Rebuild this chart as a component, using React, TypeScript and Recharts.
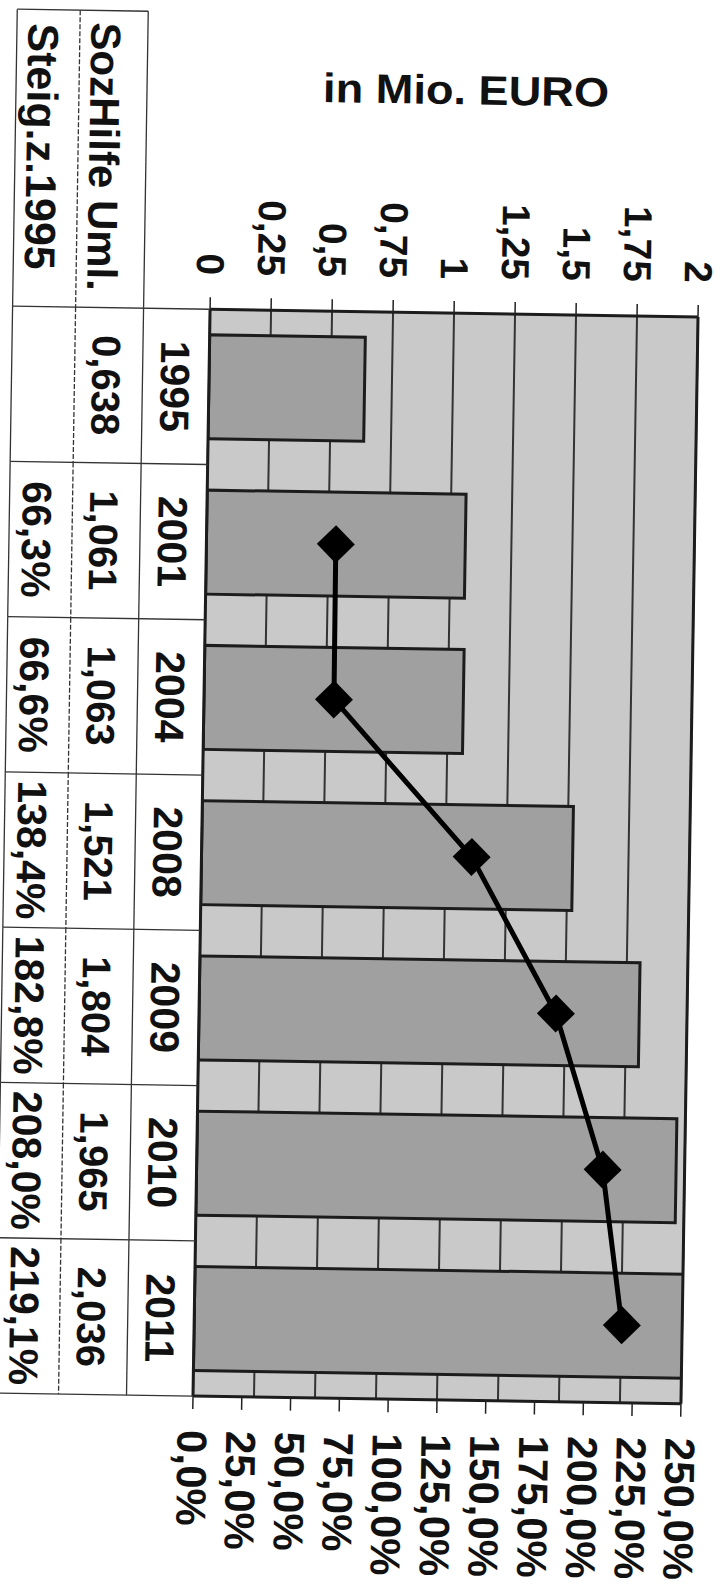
import React from 'react';
import { ComposedChart, Bar, Line, XAxis, YAxis, CartesianGrid, ReferenceLine } from 'recharts';

// ---- data ----
const years = ['1995', '2001', '2004', '2008', '2009', '2010', '2011'];
const sozHilfeUml = [0.638, 1.061, 1.063, 1.521, 1.804, 1.965, 2.036];
const steigerung: (number | null)[] = [null, 66.3, 66.6, 138.4, 182.8, 208.0, 219.1];
const rowLabels = ['SozHilfe Uml.', 'Steig.z.1995'];
const titleText = 'in Mio. EURO';
const valueTicks = [0, 0.25, 0.5, 0.75, 1, 1.25, 1.5, 1.75, 2];
const pctTicks = [0, 25, 50, 75, 100, 125, 150, 175, 200, 225, 250];

const data = years.map((y, i) => ({ year: y, value: sozHilfeUml[i], pct: steigerung[i] }));

// ---- style ----
const FONT = '"Liberation Sans", Arial, Helvetica, sans-serif';
const INK = '#111';
const PLOT_BG = '#c9c9c9';
const BAR_FILL = '#a0a0a0';
const EDGE = '#1c1c1c';

const fmtTick = (v: number) => String(v).replace('.', ',');
const fmtVal = (v: number) => v.toFixed(3).replace('.', ',');
const fmtPct = (v: number) => v.toFixed(1).replace('.', ',') + '%';

function TableTick(props: any) {
  const { x, y, payload } = props;
  const i: number = payload.index ?? props.index ?? 0;
  const half: number = payload.offset || 77.6;
  const x0 = x - half;
  const x1 = x + half;
  const rYear = y + 66.5;
  const rSoz = y + 134.5;
  const rEnd = y + 197.5;
  const ln = { stroke: '#333', strokeWidth: 1.3 };
  const txt = { fontFamily: FONT, fontWeight: 700, fontSize: 40, fill: INK } as const;
  const pct = steigerung[i];
  return (
    <g>
      {i === 0 && (
        <g>
          <line x1={16} y1={rYear} x2={x0} y2={rYear} {...ln} />
          <line x1={16} y1={rSoz} x2={x0} y2={rSoz} {...ln} strokeDasharray="5 2" />
          <line x1={16} y1={rEnd} x2={x0} y2={rEnd} {...ln} />
          <line x1={16} y1={rYear} x2={16} y2={rEnd} {...ln} />
          <text x={28} y={rYear + 42} dy="0.35em" {...txt} fontSize={42}>{rowLabels[0]}</text>
          <text x={30} y={rSoz + 36.5} dy="0.35em" {...txt} fontSize={43}>{rowLabels[1]}</text>
        </g>
      )}
      <line x1={x0} y1={y} x2={x0} y2={rEnd} {...ln} />
      {i === years.length - 1 && <line x1={x1} y1={y} x2={x1} y2={rEnd} {...ln} />}
      <line x1={x0} y1={rYear} x2={x1} y2={rYear} {...ln} />
      <line x1={x0} y1={rSoz} x2={x1} y2={rSoz} {...ln} strokeDasharray="5 2" />
      <line x1={x0} y1={rEnd} x2={x1} y2={rEnd} {...ln} />
      <text x={x} y={y + 34} dy="0.35em" textAnchor="middle" {...txt} fontSize={41}>{years[i]}</text>
      <text x={x} y={y + 103} dy="0.35em" textAnchor="middle" {...txt}>{fmtVal(sozHilfeUml[i])}</text>
      {pct != null && (
        <text x={x} y={y + 170} dy="0.35em" textAnchor="middle" {...txt} fontSize={41}>{fmtPct(pct)}</text>
      )}
    </g>
  );
}

function Diamond(props: any) {
  const { cx, cy, index } = props;
  if (cx == null || cy == null || props.value == null) return <g key={`d${index}`} />;
  const r = 19;
  return (
    <polygon
      key={`d${index}`}
      points={`${cx},${cy - r} ${cx + r},${cy} ${cx},${cy + r} ${cx - r},${cy}`}
      fill="#000"
    />
  );
}

export default function App() {
  return (
    <div style={{ position: 'absolute', left: 0, top: 0, width: 722, height: 1595, overflow: 'hidden', background: '#fff' }}>
      <div
        style={{
          position: 'absolute', left: 0, top: 0, width: 722, height: 1595,
          transformOrigin: '445.5px 857px', transform: 'rotate(0.9deg)',
        }}
      >
        <svg width={722} height={140} style={{ position: 'absolute', left: 0, top: 0 }}>
          <text
            x={454} y={104} textAnchor="middle" fontFamily={FONT} fontWeight={700} fontSize={41}
            fill={INK} textLength={286} lengthAdjust="spacingAndGlyphs"
          >
            {titleText}
          </text>
        </svg>
        <div
          style={{
            position: 'absolute', left: 0, top: 0, width: 1595, height: 722,
            transformOrigin: '0 0', transform: 'translate(722px, 0) rotate(90deg)',
          }}
        >
          <ComposedChart
            width={1595}
            height={722}
            data={data}
            margin={{ top: 32.5, right: 0, bottom: 0, left: 0 }}
            barCategoryGap="16.5%"
            style={{ fontFamily: FONT }}
          >
            <CartesianGrid
              yAxisId="v"
              vertical={false}
              fill={PLOT_BG}
              fillOpacity={1}
              stroke="#333"
              strokeWidth={2}
            />
            <XAxis
              dataKey="year"
              height={201.5}
              tickSize={0}
              tickMargin={0}
              tickLine={false}
              interval={0}
              axisLine={{ stroke: EDGE, strokeWidth: 3 }}
              tick={(p: any) => <TableTick {...p} />}
            />
            <YAxis
              yAxisId="v"
              orientation="left"
              width={313}
              domain={[0, 2]}
              ticks={valueTicks}
              allowDataOverflow
              interval={0}
              tickSize={12}
              tickMargin={22}
              tickFormatter={fmtTick}
              axisLine={{ stroke: EDGE, strokeWidth: 3 }}
              tickLine={{ stroke: '#222', strokeWidth: 1.5 }}
              tick={{ fontSize: 39, fontWeight: 700, fill: INK, fontFamily: FONT }}
            />
            <YAxis
              yAxisId="pct"
              orientation="right"
              width={195}
              domain={[0, 250]}
              ticks={pctTicks}
              allowDataOverflow
              interval={0}
              tickSize={13}
              tickMargin={21}
              tickFormatter={fmtPct}
              axisLine={{ stroke: EDGE, strokeWidth: 3 }}
              tickLine={{ stroke: '#222', strokeWidth: 1.5 }}
              tick={{ fontSize: 42, fontWeight: 700, fill: INK, fontFamily: FONT }}
            />
            <ReferenceLine yAxisId="v" y={2} stroke={EDGE} strokeWidth={3} />
            <Bar
              yAxisId="v"
              dataKey="value"
              fill={BAR_FILL}
              stroke={EDGE}
              strokeWidth={3}
              isAnimationActive={false}
            />
            <Line
              yAxisId="pct"
              dataKey="pct"
              stroke="#000"
              strokeWidth={5}
              dot={(p: any) => <Diamond {...p} />}
              activeDot={false}
              connectNulls={false}
              isAnimationActive={false}
            />
          </ComposedChart>
        </div>
      </div>
    </div>
  );
}
